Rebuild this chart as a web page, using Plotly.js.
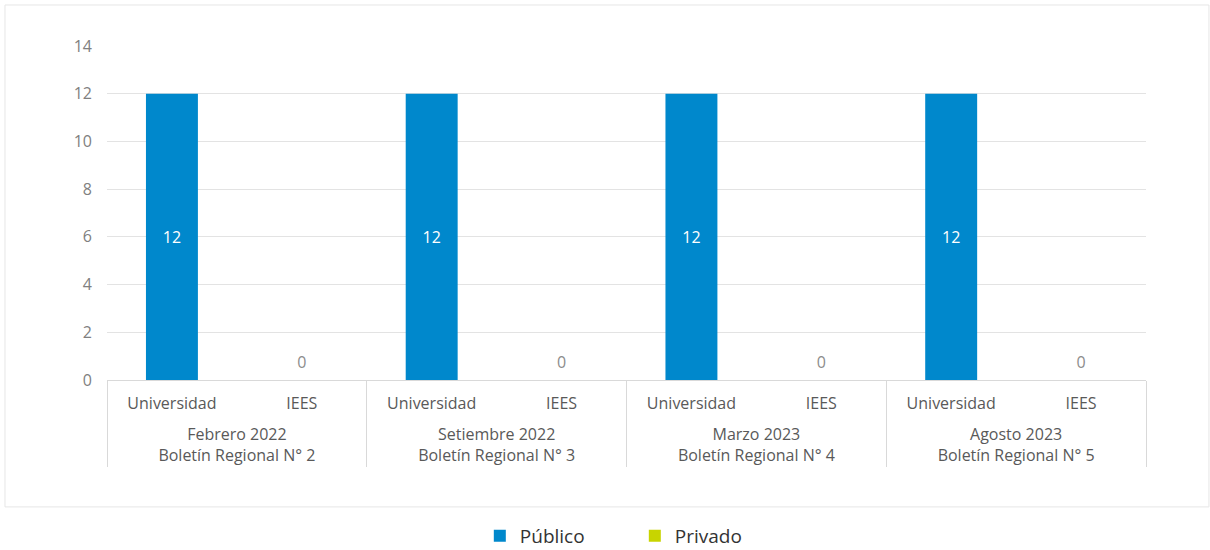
<!DOCTYPE html>
<html>
<head>
<meta charset="utf-8">
<script src="https://cdn.plot.ly/plotly-3.0.1.min.js"></script>
<style>html,body{margin:0;padding:0;background:#fff;}#chart{width:1210px;height:550px;}</style>
</head>
<body>
<div id="chart"></div>
<script>
const periods = ["Febrero 2022<br>Boletín Regional N° 2", "Setiembre 2022<br>Boletín Regional N° 3", "Marzo 2023<br>Boletín Regional N° 4", "Agosto 2023<br>Boletín Regional N° 5"];
const types = ["Universidad", "IEES"];
const publicoUniversidad = [12, 12, 12, 12];
const privadoIEES = [0, 0, 0, 0];

// build slot positions from the categories
const slotX = [], slotLabel = [], pubX = [], pubY = [], privX = [], privY = [];
const periodCenters = [], boundaries = [];
periods.forEach((p, i) => {
  const base = i * types.length;
  boundaries.push(base - 0.5);
  periodCenters.push(base + (types.length - 1) / 2);
  types.forEach((t, j) => {
    slotX.push(base + j); slotLabel.push(t);
  });
  pubX.push(base + types.indexOf("Universidad")); pubY.push(publicoUniversidad[i]);
  privX.push(base + types.indexOf("IEES")); privY.push(privadoIEES[i]);
});
boundaries.push(periods.length * types.length - 0.5);
const xRange = [-0.5, periods.length * types.length - 0.5];

const font = "'Open Sans', 'Noto Sans', sans-serif";
const data = [
  {type: "bar", name: "Público", x: pubX, y: pubY, text: pubY.map(String),
   textposition: "inside", insidetextanchor: "middle", textangle: 0,
   textfont: {color: "#ffffff", size: 16, family: font},
   marker: {color: "#0088CC"}, width: 0.4, hoverinfo: "none"},
  {type: "bar", name: "Privado", x: privX, y: privY,
   marker: {color: "#C8D400"}, width: 0.4, hoverinfo: "none"},
  {type: "scatter", mode: "markers+text", x: privX, y: privY, text: privY.map(String),
   textposition: "top center", showlegend: false, cliponaxis: false,
   marker: {size: 12, opacity: 0, color: "#ffffff"},
   textfont: {color: "#8c8c8c", size: 16, family: font}, hoverinfo: "none"},
  {type: "scatter", mode: "markers", xaxis: "x2", x: periodCenters, y: periodCenters.map(() => null),
   showlegend: false, hoverinfo: "none", marker: {opacity: 0}},
  {type: "scatter", mode: "markers", xaxis: "x3", x: boundaries, y: boundaries.map(() => null),
   showlegend: false, hoverinfo: "none", marker: {opacity: 0}}
];

const layout = {
  width: 1210, height: 550,
  margin: {l: 107, r: 64, t: 46, b: 170, autoexpand: false},
  paper_bgcolor: "#ffffff", plot_bgcolor: "#ffffff",
  barmode: "overlay",
  font: {family: font, color: "#595959"},
  showlegend: true,
  legend: {orientation: "h", x: 0.508, xanchor: "center", y: -0.467, yanchor: "middle",
           font: {size: 19, color: "#333333", family: font}, entrywidth: 110, traceorder: "normal"},
  xaxis: {range: xRange, tickvals: slotX, ticktext: slotLabel, showline: true, linecolor: "#d9d9d9", linewidth: 1,
          ticks: "", showgrid: false, zeroline: false, ticklabelstandoff: 9, automargin: false,
          tickfont: {size: 16, color: "#595959", family: font}},
  xaxis2: {overlaying: "x", anchor: "y", side: "bottom", range: xRange, tickvals: periodCenters, ticktext: periods,
           ticks: "", showline: false, showgrid: false, zeroline: false, ticklabelstandoff: 43, automargin: false,
           tickfont: {size: 16, color: "#595959", family: font}},
  xaxis3: {overlaying: "x", anchor: "y", side: "bottom", range: xRange, tickvals: boundaries,
           ticks: "outside", ticklen: 86, tickcolor: "#d9d9d9", tickwidth: 1, showticklabels: false,
           showline: false, showgrid: false, zeroline: false, automargin: false},
  yaxis: {range: [0, 14], dtick: 2, showgrid: true, gridcolor: "#e3e3e3", gridwidth: 1,
          zeroline: false, showline: false, ticks: "", ticklabelstandoff: 14, automargin: false,
          tickfont: {size: 16, color: "#808080", family: font}},
  shapes: [{type: "rect", xref: "paper", yref: "paper",
            x0: -0.0982, x1: 1.0606, y0: -0.380, y1: 1.1228,
            line: {color: "#e6e6e6", width: 1}, fillcolor: "rgba(0,0,0,0)", layer: "below"}]
};

Plotly.newPlot("chart", data, layout, {displayModeBar: false, staticPlot: true});
</script>
</body>
</html>
